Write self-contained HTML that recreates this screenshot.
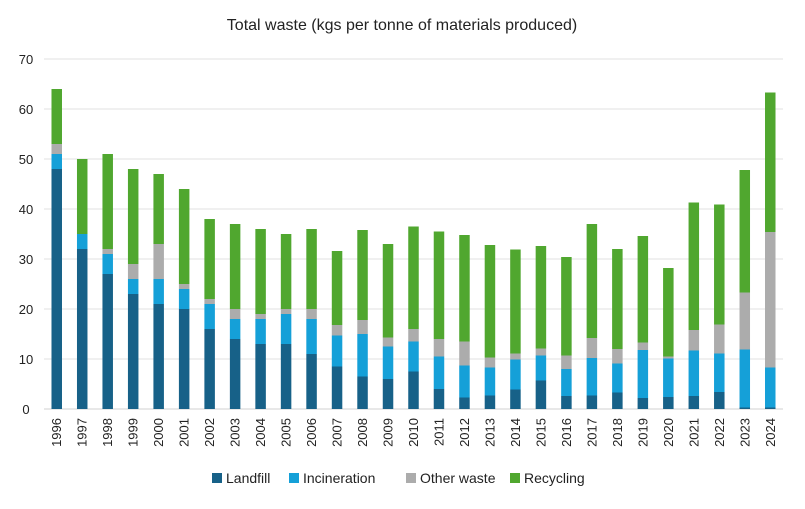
<!DOCTYPE html>
<html><head><meta charset="utf-8"><style>
body{margin:0;background:#fff;font-family:"Liberation Sans",sans-serif;}
svg text{font-family:"Liberation Sans",sans-serif;fill:#222;}
</style></head><body>
<svg id="chart" width="805" height="504" viewBox="0 0 805 504" xmlns="http://www.w3.org/2000/svg">
<text x="402" y="30" text-anchor="middle" font-size="16">Total waste (kgs per tonne of materials produced)</text>
<g id="grid"></g><g id="bars"></g><g id="xlabels"></g>
<g id="legend"></g>
</svg>
<script>
const years=['1996','1997','1998','1999','2000','2001','2002','2003','2004','2005','2006','2007','2008','2009','2010','2011','2012','2013','2014','2015','2016','2017','2018','2019','2020','2021','2022','2023','2024'];
const landfill=[48,32,27,23,21,20,16,14,13,13,11,8.5,6.5,6,7.5,4,2.3,2.7,3.9,5.7,2.6,2.7,3.3,2.2,2.4,2.6,3.4,0.3,0.3];
const incineration=[3,3,4,3,5,4,5,4,5,6,7,6.2,8.5,6.5,6,6.5,6.4,5.6,6,5,5.4,7.5,5.8,9.6,7.7,9.1,7.7,11.6,8];
const otherWaste=[2,0,1,3,7,1,1,2,1,1,2,2.1,2.8,1.8,2.5,3.5,4.8,2,1.2,1.4,2.7,4,2.9,1.5,0.4,4.1,5.8,11.4,27.1];
const recycling=[11,15,19,19,14,19,16,17,17,15,16,14.8,18,18.7,20.5,21.5,21.3,22.5,20.8,20.5,19.7,22.8,20,21.3,17.7,25.5,24,24.5,27.9];
const yTicks=[0,10,20,30,40,50,60,70];
const series=[['landfill','Landfill',landfill,'#176188'],['incineration','Incineration',incineration,'#15a0d8'],['other-waste','Other waste',otherWaste,'#acacac'],['recycling','Recycling',recycling,'#50a72f']];
const NS='http://www.w3.org/2000/svg';
const left=44,right=783,y0=409,yMax=70,ph=350;
const y=v=>y0-v/yMax*ph;
const band=(right-left)/years.length;
const xc=i=>left+band*(i+0.5);
const bw=10.5;
function mk(t,a,p){const e=document.createElementNS(NS,t);for(const k in a)e.setAttribute(k,a[k]);p.appendChild(e);return e;}
const grid=document.getElementById('grid');
yTicks.forEach(t=>{
 const l=mk('line',{x1:left,x2:right,y1:y(t),y2:y(t),stroke:t===0?'#d0d0d0':'#e2e2e2','stroke-width':1},grid);
 
 
 const tx=mk('text',{x:26,y:y(t)+5,'font-size':13,'text-anchor':'middle'},grid);
 tx.textContent=t;
 
 
});
const bars=document.getElementById('bars'),xl=document.getElementById('xlabels');
years.forEach((yr,i)=>{
 let cum=0;
 series.forEach(s=>{
  const v=s[2][i];
  const r=mk('rect',{x:xc(i)-bw/2,y:y(cum+v),width:bw,height:y(cum)-y(cum+v),fill:s[3]},bars);
  
  
  cum+=v;
 });
 const t=mk('text',{x:0,y:0,'font-size':13,'text-anchor':'end',transform:`translate(${xc(i)+4.5},418) rotate(-90)`},xl);
 t.textContent=yr;
 
 
});
const lg=document.getElementById('legend');
const lx=[212,289,406,510];
series.forEach((s,i)=>{
 const g=mk('g',{},lg);
 
 
 mk('rect',{x:lx[i],y:473,width:10,height:10,fill:s[3]},g);
 const t=mk('text',{x:lx[i]+14,y:483,'font-size':14},g);
 t.textContent=s[1];
});
</script>
</body></html>
